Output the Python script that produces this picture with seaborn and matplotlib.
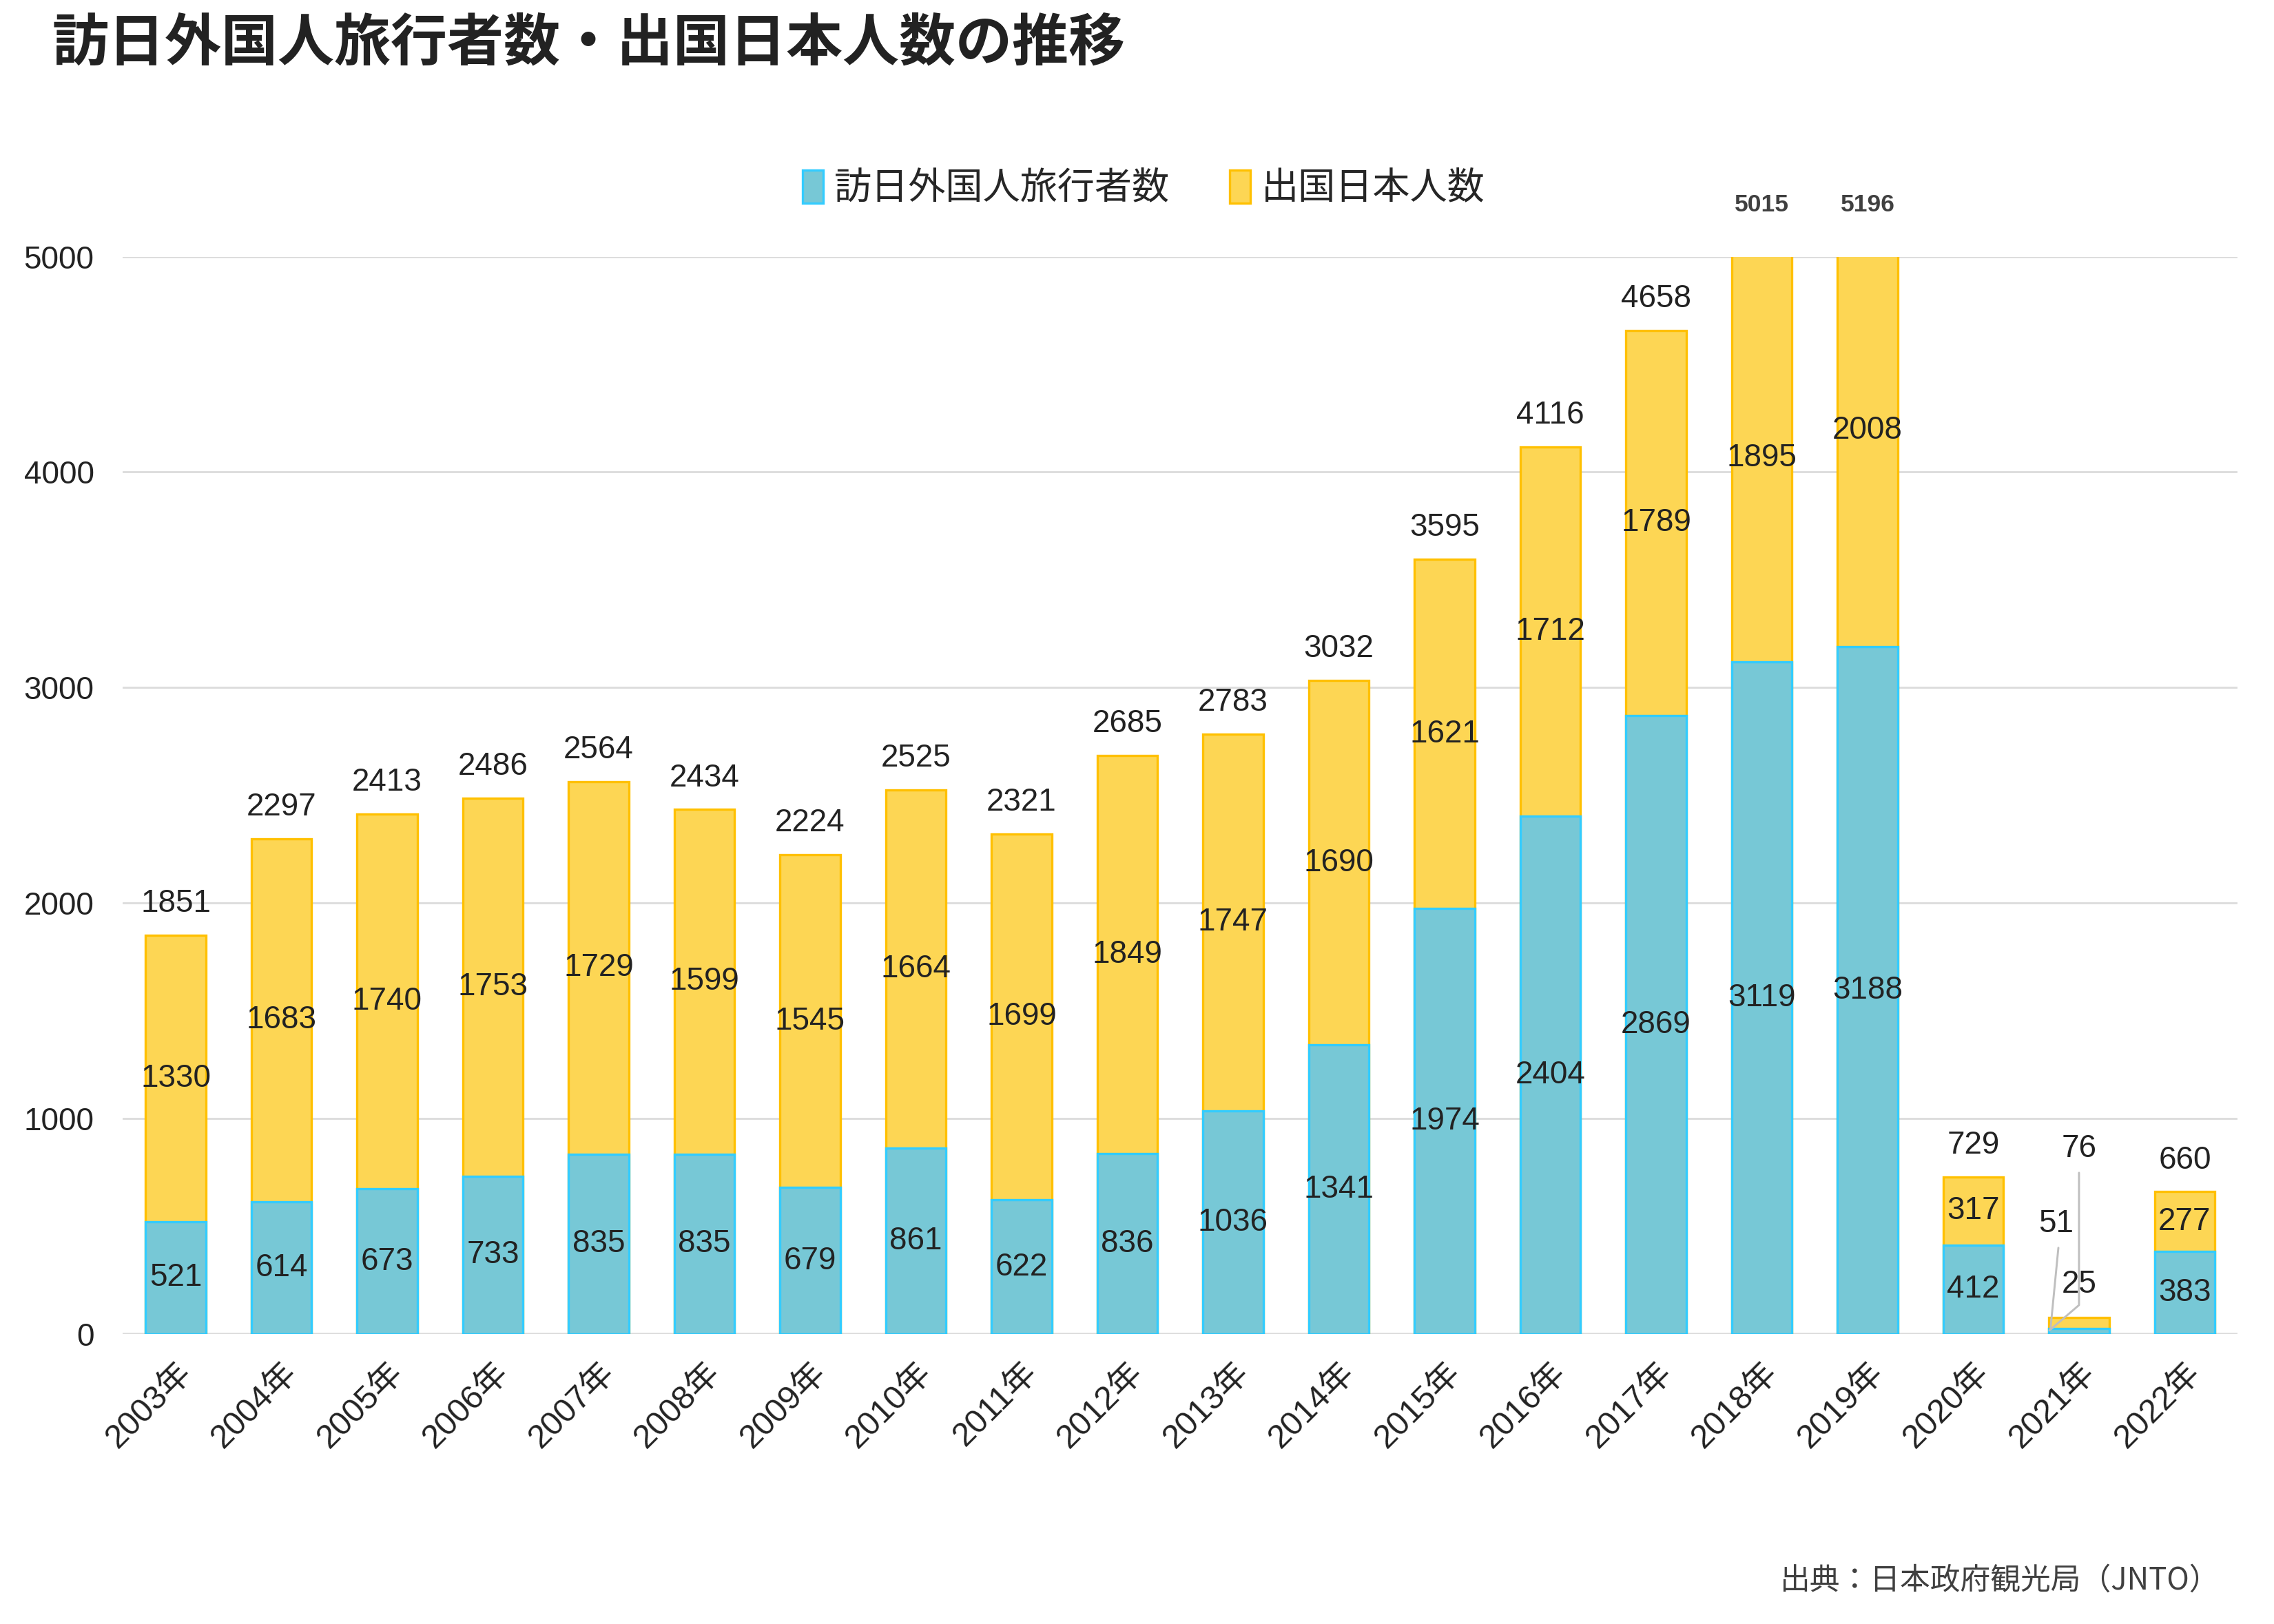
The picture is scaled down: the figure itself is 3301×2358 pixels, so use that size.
import matplotlib
matplotlib.use("Agg")
import matplotlib.pyplot as plt
import seaborn as sns
import pandas as pd

# données (万人)
years = [f"{y}年" for y in range(2003, 2023)]
inbound = [521, 614, 673, 733, 835, 835, 679, 861, 622, 836, 1036, 1341, 1974, 2404, 2869, 3119, 3188, 412, 25, 383]
outbound = [1330, 1683, 1740, 1753, 1729, 1599, 1545, 1664, 1699, 1849, 1747, 1690, 1621, 1712, 1789, 1895, 2008, 317, 51, 277]
totals = [1851, 2297, 2413, 2486, 2564, 2434, 2224, 2525, 2321, 2685, 2783, 3032, 3595, 4116, 4658, 5015, 5196, 729, 76, 660]

title = "訪日外国人旅行者数・出国日本人数の推移"
label_in = "訪日外国人旅行者数"
label_out = "出国日本人数"
source = "出典：日本政府観光局（JNTO）"

df = pd.DataFrame({"year": years, "inbound": inbound, "outbound": outbound, "total": totals})

sns.set_style("white")
plt.rcParams["font.family"] = ["Liberation Sans", "Noto Sans CJK JP"]

blue_fill, blue_edge = "#77C8D6", "#33CCFF"
yel_fill, yel_edge = "#FDD654", "#FFC000"
txt = "#222222"
ymax = 5000

fig = plt.figure(figsize=(3301 / 300, 2358 / 300), dpi=300)
ax = fig.add_axes([0.054, 0.1786, 0.930, 0.6634])

# empilement : total en jaune, puis bleu par-dessus
sns.barplot(data=df, x="year", y="total", color=yel_fill, saturation=1, width=0.57,
            edgecolor=yel_edge, linewidth=0.8, ax=ax, label=label_out)
sns.barplot(data=df, x="year", y="inbound", color=blue_fill, saturation=1, width=0.57,
            edgecolor=blue_edge, linewidth=0.8, ax=ax, label=label_in)
if ax.get_legend() is not None:
    ax.get_legend().remove()

ax.set_ylim(0, ymax)
ax.set_xlim(-0.5, len(years) - 0.5)
ax.set_yticks(range(0, 5001, 1000))
ax.yaxis.grid(True, color="#DDDDDD", linewidth=0.7)
ax.set_axisbelow(True)
for s in ax.spines.values():
    s.set_visible(False)
ax.axhline(0, color="#DDDDDD", linewidth=0.9, zorder=0.5)
ax.set_xlabel("")
ax.set_ylabel("")
ax.tick_params(axis="y", length=0, pad=10, labelsize=11, labelcolor=txt)
ax.tick_params(axis="x", length=0, pad=8, labelsize=11.5, labelcolor=txt)
ax.set_xticks(range(len(years)))
ax.set_xticklabels(years, rotation=45, ha="right", rotation_mode="anchor")

# étiquettes des segments
for i in range(len(years)):
    if years[i] == "2021年":
        continue
    ax.text(i, inbound[i] / 2, str(inbound[i]), ha="center", va="center", fontsize=11, color=txt)
    ax.text(i, inbound[i] + outbound[i] / 2, str(outbound[i]), ha="center", va="center",
            fontsize=11, color=txt)
    if totals[i] > ymax:
        ax.annotate(str(totals[i]), (i, ymax), xytext=(0, 18), textcoords="offset points",
                    ha="center", va="center", fontsize=8.5, fontweight="bold",
                    color="#404040", annotation_clip=False)
    else:
        ax.annotate(str(totals[i]), (i, totals[i]), xytext=(0, 11), textcoords="offset points",
                    ha="center", va="center", fontsize=11, color=txt)

# 2021 : étiquettes déportées avec lignes de rappel
k = years.index("2021年")
lc = "#BFBFBF"
ax.plot([k, k, k - 0.28], [748, 134, 16], color=lc, linewidth=0.7, zorder=3)
ax.plot([k - 0.195, k - 0.27], [400, 22], color=lc, linewidth=0.7, zorder=3)
ax.text(k, 860, str(totals[k]), ha="center", va="center", fontsize=11, color=txt)
ax.text(k, 230, str(inbound[k]), ha="center", va="center", fontsize=11, color=txt)
ax.text(k - 0.215, 511, str(outbound[k]), ha="center", va="center", fontsize=11, color=txt)

# légende
h, l = ax.get_legend_handles_labels()
order = [l.index(label_in), l.index(label_out)]
fig.legend([h[j] for j in order], [l[j] for j in order], loc="center", bbox_to_anchor=(0.503, 0.884),
           ncol=2, frameon=False, fontsize=13, handlelength=0.55, handleheight=1.0,
           handletextpad=0.3, columnspacing=1.6)

fig.text(0.023, 0.973, title, ha="left", va="center", fontsize=19.7, fontweight="bold",
         color="#222222", family=["Noto Sans CJK JP"])
fig.text(0.976, 0.027, source, ha="right", va="center", fontsize=10.5, color="#404040",
         family=["Noto Sans CJK JP"])

fig.savefig("out.png", dpi=300, facecolor="white")
